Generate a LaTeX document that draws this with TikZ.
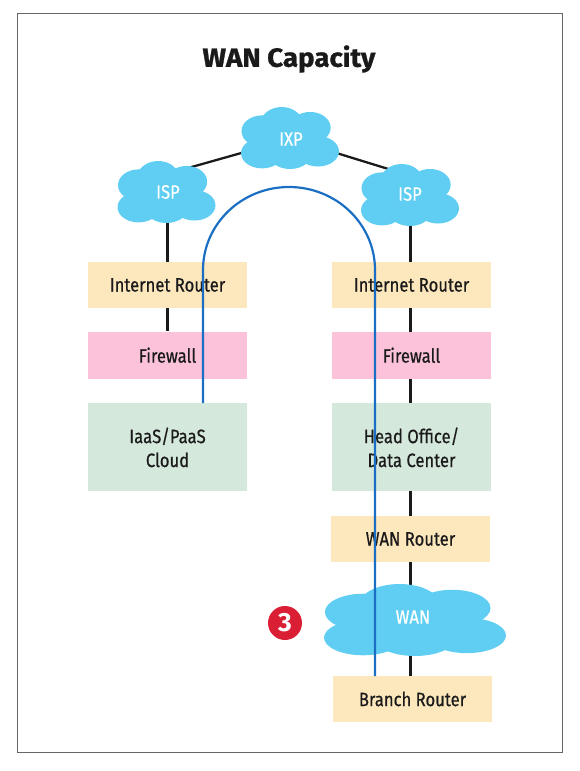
\documentclass[tikz,border=0pt]{standalone}
\usepackage{fontspec}
\usepackage{xcolor}
\setmainfont{Fira Sans}[FakeStretch=0.86, FakeBold=0.6]
\newfontfamily\titlefont{Fira Sans}[FakeStretch=1.05, FakeBold=1.1]
\newfontfamily\badgefont{Fira Sans}
\usetikzlibrary{backgrounds,positioning}
\definecolor{cloudblue}{HTML}{5FCEF2}
\definecolor{routerbg}{HTML}{FDE8BE}
\definecolor{wallbg}{HTML}{FBC2DA}
\definecolor{sitebg}{HTML}{D5E8DC}
\definecolor{pathblue}{HTML}{1A6FC4}
\definecolor{badgered}{HTML}{DA1E34}
\definecolor{inkblack}{HTML}{1A1A1A}
% name, x, y, half width, half height, label, label position
\newcommand{\puffcloud}[7]{
  \begin{scope}[shift={(#2,#3)}, x=#4*0.02cm, y=#5*-0.02cm]
    \fill[cloudblue] (-0.57,-0.22) ellipse[x radius=0.42, y radius=0.51];
    \fill[cloudblue] (-0.17,-0.43) ellipse[x radius=0.44, y radius=0.57];
    \fill[cloudblue] (0.41,-0.33) ellipse[x radius=0.42, y radius=0.51];
    \fill[cloudblue] (-0.57,0.49) ellipse[x radius=0.43, y radius=0.49];
    \fill[cloudblue] (0,0.43) ellipse[x radius=0.47, y radius=0.57];
    \fill[cloudblue] (0.57,0.43) ellipse[x radius=0.43, y radius=0.49];
    \fill[cloudblue] (-0.6,-0.3) rectangle (0.6,0.4);
  \end{scope}
  \node[cloudtext] (#1) at (#7) {#6};
}
\tikzset{
  cloudtext/.style={text=white, font=\fontsize{11}{13.6}\selectfont, minimum height=0.72cm, inner sep=0pt},
  boxtext/.style={text=inkblack, font=\fontsize{11}{13.6}\selectfont, align=center, inner sep=0pt, minimum width=3.18cm},
  routerbox/.style={boxtext, fill=routerbg, minimum height=0.92cm},
  wallbox/.style={boxtext, fill=wallbg, minimum height=0.94cm},
  sitebox/.style={boxtext, fill=sitebg, minimum height=1.76cm},
  link/.style={draw=inkblack, line width=1.3pt},
  pathline/.style={draw=pathblue, line width=1.25pt},
}
\begin{document}
\begin{tikzpicture}[x=0.02cm, y=-0.02cm]
  \useasboundingbox (0,0) rectangle (580,771);
  \draw[black!60, line width=0.45pt] (17,13) rectangle (562,752);
  \node[font=\titlefont\fontsize{15}{18}\selectfont\bfseries, text=inkblack] (title) at (289,59) {WAN Capacity};

  \puffcloud{ixp}{290}{138}{49}{31}{IXP}{291,139}
  \puffcloud{ispleft}{166.5}{192}{49}{31}{ISP}{168,192}
  \puffcloud{ispright}{410}{195}{49}{31}{ISP}{410,194}
  \puffcloud{wan}{415}{620}{91}{36}{WAN}{413,617}

  \node[routerbox] (inetleft) at (167.5,285) {Internet Router};
  \node[wallbox, below=0.46cm of inetleft] (wallleft) {Firewall};
  \node[sitebox, below=0.48cm of wallleft] (cloudsite) {IaaS/PaaS\\Cloud};

  \node[routerbox] (inetright) at (411.5,285) {Internet Router};
  \node[wallbox, below=0.46cm of inetright] (wallright) {Firewall};
  \node[sitebox, below=0.48cm of wallright] (office) {Head Office/\\Data Center};
  \node[routerbox] (wanrouter) at (410.5,539) {WAN Router};
  \node[routerbox] (branch) at (412.5,699) {Branch Router};

  \node[circle, fill=badgered, text=white, minimum size=0.68cm, inner sep=0pt, font=\badgefont\fontsize{15}{18}\selectfont\bfseries] (badge) at (285,623) {3};

  \begin{scope}[on background layer]
    \draw[link] (ixp) -- (ispleft.north);
    \draw[link] (ixp) -- (ispright.north);
    \draw[link] (ispleft.south -| inetleft) -- (inetleft);
    \draw[link] (inetleft) -- (wallleft);
    \draw[link] (ispright.south -| wanrouter) -- (inetright.center -| wanrouter);
    \draw[link] (inetright.center -| wanrouter) -- (wallright.center -| wanrouter);
    \draw[link] (wallright.center -| wanrouter) -- (office.center -| wanrouter);
    \draw[link] (office.center -| wanrouter) -- (wanrouter);
    \draw[link] (wanrouter) -- (branch.center -| wanrouter);
  \end{scope}

  \coordinate (pathstart) at (203,403);
  \coordinate (pathend) at (375,676);
  \draw[pathline] (pathstart) -- (203,270) arc[start angle=180, end angle=360, x radius=86, y radius=83] -- (pathend);
\end{tikzpicture}
\end{document}
